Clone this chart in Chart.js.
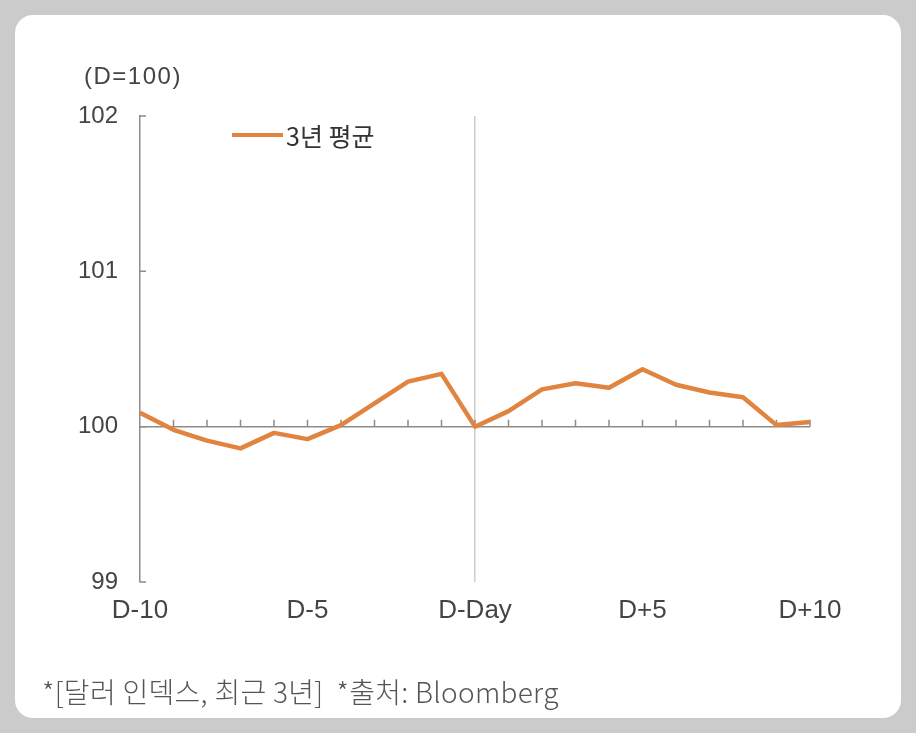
<!DOCTYPE html>
<html>
<head>
<meta charset="utf-8">
<script src="https://cdn.jsdelivr.net/npm/chart.js@4.4.1/dist/chart.umd.min.js"></script>
<style>
  body { margin: 0; background: #cbcbcb; width: 916px; height: 733px; position: relative; overflow: hidden; }
  .card { position: absolute; left: 15px; top: 15px; width: 886px; height: 703px; background: #fff; border-radius: 18px; }
  .wrap { position: absolute; left: 0; top: 0; width: 916px; height: 733px; }
  .unit { position: absolute; left: 84px; top: 62px; font: 24px "Liberation Sans", Arial, sans-serif; letter-spacing: 1.5px; color: #444; }
  .legend { position: absolute; left: 232px; top: 117px; font: 400 25px "Noto Sans CJK KR", sans-serif; color: #333; display: flex; align-items: center; }
  .legend i { display: inline-block; width: 51px; height: 4px; background: #e0843f; margin-right: 3px; }
  .note { position: absolute; left: 42px; top: 671px; font: 300 28px "Noto Sans CJK KR", sans-serif; letter-spacing: 0.3px; color: #555; white-space: pre; }
</style>
</head>
<body>
<div class="card"></div>
<div class="wrap"><canvas id="chart"></canvas></div>
<div class="unit">(D=100)</div>
<div class="legend"><i></i>3년 평균</div>
<div class="note">*[달러 인덱스, 최근 3년]  *출처: Bloomberg</div>
<script>
// days around the event
const days = ["D-10", "D-9", "D-8", "D-7", "D-6", "D-5", "D-4", "D-3", "D-2", "D-1", "D-Day",
  "D+1", "D+2", "D+3", "D+4", "D+5", "D+6", "D+7", "D+8", "D+9", "D+10"];
// dollar index, 3y average, D = 100
const avg3y = [100.09, 99.98, 99.91, 99.86, 99.96, 99.92, 100.01, 100.15, 100.29, 100.34, 100.00,
  100.10, 100.24, 100.28, 100.25, 100.37, 100.27, 100.22, 100.19, 100.01, 100.03];
const yTicks = [99, 100, 101, 102];
const shownDays = ["D-10", "D-5", "D-Day", "D+5", "D+10"];

const axisGrey = "#8c8c8c";

// small inward tick marks (y axis to the right, x marks up from the 100 line)
const innerTicks = {
  id: "innerTicks",
  beforeDatasetsDraw(chart) {
    const { ctx, scales: { x, y } } = chart;
    ctx.save();
    ctx.strokeStyle = axisGrey;
    ctx.lineWidth = 1.5;
    ctx.beginPath();
    yTicks.forEach(v => {
      const py = y.getPixelForValue(v);
      ctx.moveTo(x.left, py);
      ctx.lineTo(x.left + 6, py);
    });
    const base = y.getPixelForValue(100);
    days.forEach((d, i) => {
      if (i === 0) return;
      const px = x.getPixelForValue(i);
      ctx.moveTo(px, base);
      ctx.lineTo(px, base - 7);
    });
    ctx.stroke();
    ctx.restore();
  }
};

new Chart(document.getElementById("chart"), {
  type: "line",
  data: {
    labels: days,
    datasets: [{
      label: "3년 평균",
      data: avg3y,
      borderColor: "#e0843f",
      backgroundColor: "#e0843f",
      borderWidth: 4.5,
      pointRadius: 0,
      tension: 0,
      borderJoinStyle: "round"
    }]
  },
  options: {
    responsive: true,
    maintainAspectRatio: false,
    animation: false,
    layout: { padding: { top: 116, right: 106, left: 0, bottom: 0 } },
    plugins: { legend: { display: false }, tooltip: { enabled: false } },
    scales: {
      x: {
        offset: false,
        afterFit: s => { s.height = 151; },
        grid: {
          drawTicks: false,
          lineWidth: 1.5,
          color: c => (c.index === 10 ? "#cdcdcd" : "transparent")
        },
        border: { display: false },
        ticks: {
          autoSkip: false,
          maxRotation: 0,
          padding: 13,
          color: "#444",
          font: { family: "'Liberation Sans', Arial, sans-serif", size: 26 },
          callback: (v, i) => (shownDays.includes(days[i]) ? days[i] : "")
        }
      },
      y: {
        min: 99,
        max: 102,
        afterFit: s => { s.width = 140; },
        afterBuildTicks: s => { s.ticks = yTicks.map(v => ({ value: v })); },
        grid: {
          drawTicks: false,
          lineWidth: 1.5,
          color: c => (c.tick && c.tick.value === 100 ? axisGrey : "transparent")
        },
        border: { display: true, color: axisGrey, width: 1.5 },
        ticks: {
          padding: 22,
          color: "#444",
          font: { family: "'Liberation Sans', Arial, sans-serif", size: 24 }
        }
      }
    }
  },
  plugins: [innerTicks]
});
</script>
</body>
</html>
